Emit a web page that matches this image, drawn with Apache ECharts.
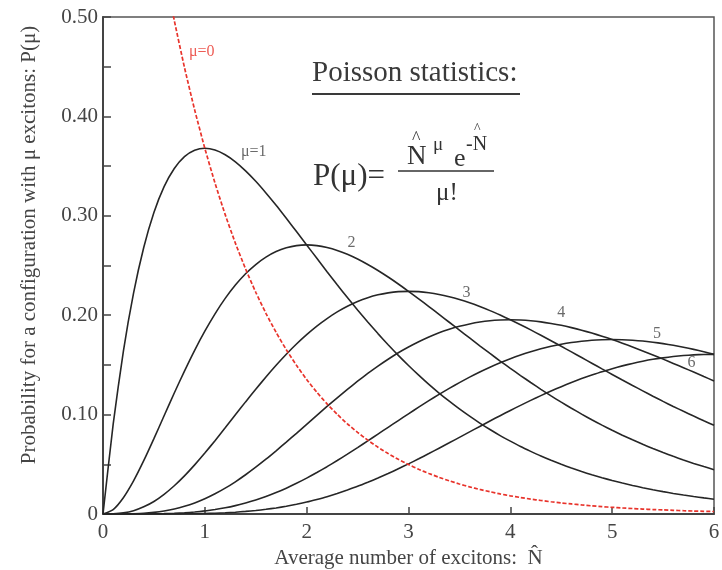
<!DOCTYPE html>
<html>
<head>
<meta charset="utf-8">
<script src="https://cdn.jsdelivr.net/npm/echarts@6/dist/echarts.min.js"></script>
<style>
  html, body { margin: 0; padding: 0; background: #ffffff; }
  #chart { width: 722px; height: 570px; }
</style>
</head>
<body>
<div id="chart"></div>
<script>
// Average number of excitons (x samples, step 0.1)
const nHat = [
  0.0, 0.1, 0.2, 0.3, 0.4, 0.5, 0.6, 0.7, 0.8, 0.9,
  1.0, 1.1, 1.2, 1.3, 1.4, 1.5, 1.6, 1.7, 1.8, 1.9,
  2.0, 2.1, 2.2, 2.3, 2.4, 2.5, 2.6, 2.7, 2.8, 2.9,
  3.0, 3.1, 3.2, 3.3, 3.4, 3.5, 3.6, 3.7, 3.8, 3.9,
  4.0, 4.1, 4.2, 4.3, 4.4, 4.5, 4.6, 4.7, 4.8, 4.9,
  5.0, 5.1, 5.2, 5.3, 5.4, 5.5, 5.6, 5.7, 5.8, 5.9,
  6.0];

// Probability of a configuration with mu excitons, one array per mu
const p0 = [
  1.0000, 0.9048, 0.8187, 0.7408, 0.6703, 0.6065, 0.5488, 0.4966, 0.4493, 0.4066,
  0.3679, 0.3329, 0.3012, 0.2725, 0.2466, 0.2231, 0.2019, 0.1827, 0.1653, 0.1496,
  0.1353, 0.1225, 0.1108, 0.1003, 0.0907, 0.0821, 0.0743, 0.0672, 0.0608, 0.0550,
  0.0498, 0.0450, 0.0408, 0.0369, 0.0334, 0.0302, 0.0273, 0.0247, 0.0224, 0.0202,
  0.0183, 0.0166, 0.0150, 0.0136, 0.0123, 0.0111, 0.0101, 0.0091, 0.0082, 0.0074,
  0.0067, 0.0061, 0.0055, 0.0050, 0.0045, 0.0041, 0.0037, 0.0033, 0.0030, 0.0027,
  0.0025];
const p1 = [
  0.0000, 0.0905, 0.1637, 0.2222, 0.2681, 0.3033, 0.3293, 0.3476, 0.3595, 0.3659,
  0.3679, 0.3662, 0.3614, 0.3543, 0.3452, 0.3347, 0.3230, 0.3106, 0.2975, 0.2842,
  0.2707, 0.2572, 0.2438, 0.2306, 0.2177, 0.2052, 0.1931, 0.1815, 0.1703, 0.1596,
  0.1494, 0.1397, 0.1304, 0.1217, 0.1135, 0.1057, 0.0984, 0.0915, 0.0850, 0.0789,
  0.0733, 0.0679, 0.0630, 0.0583, 0.0540, 0.0500, 0.0462, 0.0427, 0.0395, 0.0365,
  0.0337, 0.0311, 0.0287, 0.0265, 0.0244, 0.0225, 0.0207, 0.0191, 0.0176, 0.0162,
  0.0149];
const p2 = [
  0.0000, 0.0045, 0.0164, 0.0333, 0.0536, 0.0758, 0.0988, 0.1217, 0.1438, 0.1647,
  0.1839, 0.2014, 0.2169, 0.2303, 0.2417, 0.2510, 0.2584, 0.2640, 0.2678, 0.2700,
  0.2707, 0.2700, 0.2681, 0.2652, 0.2613, 0.2565, 0.2510, 0.2450, 0.2384, 0.2314,
  0.2240, 0.2165, 0.2087, 0.2008, 0.1929, 0.1850, 0.1771, 0.1692, 0.1615, 0.1539,
  0.1465, 0.1393, 0.1323, 0.1254, 0.1188, 0.1125, 0.1064, 0.1005, 0.0948, 0.0894,
  0.0842, 0.0793, 0.0746, 0.0701, 0.0659, 0.0618, 0.0580, 0.0544, 0.0509, 0.0477,
  0.0446];
const p3 = [
  0.0000, 0.0002, 0.0011, 0.0033, 0.0072, 0.0126, 0.0198, 0.0284, 0.0383, 0.0494,
  0.0613, 0.0738, 0.0867, 0.0998, 0.1128, 0.1255, 0.1378, 0.1496, 0.1607, 0.1710,
  0.1804, 0.1890, 0.1966, 0.2033, 0.2090, 0.2138, 0.2176, 0.2205, 0.2225, 0.2237,
  0.2240, 0.2237, 0.2226, 0.2209, 0.2186, 0.2158, 0.2125, 0.2087, 0.2046, 0.2001,
  0.1954, 0.1904, 0.1852, 0.1798, 0.1743, 0.1687, 0.1631, 0.1574, 0.1517, 0.1460,
  0.1404, 0.1348, 0.1293, 0.1239, 0.1185, 0.1133, 0.1082, 0.1033, 0.0985, 0.0938,
  0.0892];
const p4 = [
  0.0000, 0.0000, 0.0001, 0.0003, 0.0007, 0.0016, 0.0030, 0.0050, 0.0077, 0.0111,
  0.0153, 0.0203, 0.0260, 0.0324, 0.0395, 0.0471, 0.0551, 0.0636, 0.0723, 0.0812,
  0.0902, 0.0992, 0.1082, 0.1169, 0.1254, 0.1336, 0.1414, 0.1488, 0.1557, 0.1622,
  0.1680, 0.1733, 0.1781, 0.1823, 0.1858, 0.1888, 0.1912, 0.1931, 0.1944, 0.1951,
  0.1954, 0.1951, 0.1944, 0.1933, 0.1917, 0.1898, 0.1875, 0.1849, 0.1820, 0.1789,
  0.1755, 0.1719, 0.1681, 0.1641, 0.1600, 0.1558, 0.1515, 0.1472, 0.1428, 0.1383,
  0.1339];
const p5 = [
  0.0000, 0.0000, 0.0000, 0.0000, 0.0001, 0.0002, 0.0004, 0.0007, 0.0012, 0.0020,
  0.0031, 0.0045, 0.0062, 0.0084, 0.0111, 0.0141, 0.0176, 0.0216, 0.0260, 0.0309,
  0.0361, 0.0417, 0.0476, 0.0538, 0.0602, 0.0668, 0.0735, 0.0804, 0.0872, 0.0940,
  0.1008, 0.1075, 0.1140, 0.1203, 0.1264, 0.1322, 0.1377, 0.1429, 0.1477, 0.1522,
  0.1563, 0.1600, 0.1633, 0.1662, 0.1687, 0.1708, 0.1725, 0.1738, 0.1748, 0.1753,
  0.1755, 0.1753, 0.1748, 0.1740, 0.1728, 0.1714, 0.1697, 0.1678, 0.1656, 0.1632,
  0.1606];
const p6 = [
  0.0000, 0.0000, 0.0000, 0.0000, 0.0000, 0.0000, 0.0000, 0.0001, 0.0002, 0.0003,
  0.0005, 0.0008, 0.0012, 0.0018, 0.0026, 0.0035, 0.0047, 0.0061, 0.0078, 0.0098,
  0.0120, 0.0146, 0.0174, 0.0206, 0.0241, 0.0278, 0.0319, 0.0362, 0.0407, 0.0455,
  0.0504, 0.0555, 0.0608, 0.0662, 0.0716, 0.0771, 0.0826, 0.0881, 0.0936, 0.0989,
  0.1042, 0.1093, 0.1143, 0.1191, 0.1237, 0.1281, 0.1323, 0.1362, 0.1398, 0.1432,
  0.1462, 0.1490, 0.1515, 0.1537, 0.1556, 0.1571, 0.1584, 0.1594, 0.1601, 0.1605,
  0.1606];

// Curve captions and where they sit (data units)
const curveNames = ['μ=0', 'μ=1', '2', '3', '4', '5', '6'];
const captionX = [0.97, 1.48, 2.44, 3.57, 4.50, 5.44, 5.78];
const captionY = [0.465, 0.364, 0.273, 0.223, 0.202, 0.181, 0.152];

const yTicks = [0, 0.1, 0.2, 0.3, 0.4, 0.5];

const serif = '"Liberation Serif", "Times New Roman", serif';
const ink = '#262626';
const textGray = '#454545';
const red = '#e8332b';

const pairs = arr => nHat.map((x, i) => [x, arr[i]]);
const curves = [p0, p1, p2, p3, p4, p5, p6];

const lineSeries = curves.map((arr, k) => ({
  type: 'line',
  name: curveNames[k],
  // the mu=0 curve leaves the plot through the top edge, start just above it
  data: pairs(arr).filter(d => k !== 0 || d[0] >= 0.6),
  showSymbol: false,
  smooth: 0.2,
  clip: true,
  lineStyle: k === 0
    ? { color: red, width: 1.7, type: [4, 2] }
    : { color: ink, width: 1.6 },
  z: k === 0 ? 3 : 2
}));

const captionSeries = {
  type: 'scatter',
  symbolSize: 0,
  silent: true,
  data: curveNames.map((t, k) => ({
    value: [captionX[k], captionY[k]],
    label: {
      show: true,
      position: 'inside',
      formatter: t,
      fontFamily: serif,
      fontSize: 16,
      color: k === 0 ? red : textGray
    }
  })),
  z: 5
};

// Formula pieces: text, font size, x, y (pixel anchor, left/middle)
const formulaText = (text, size, x, y) => ({
  type: 'text', x: x, y: y,
  style: { text: text, font: size + 'px ' + serif, fill: '#333', align: 'left', verticalAlign: 'middle' }
});

const chart = echarts.init(document.getElementById('chart'), null, { renderer: 'canvas' });

chart.setOption({
  backgroundColor: '#ffffff',
  animation: false,
  grid: {
    left: 103, right: 8, top: 17, bottom: 56,
    outerBoundsMode: 'none',
    containLabel: false,
    show: true, borderColor: '#555', borderWidth: 1.5
  },
  xAxis: {
    type: 'value',
    min: 0, max: 6, interval: 1,
    name: 'Average number of excitons:  N\u0302',
    nameLocation: 'middle',
    nameGap: 33,
    nameTextStyle: { fontFamily: serif, fontSize: 21, color: textGray },
    axisLine: { lineStyle: { color: '#444', width: 2 } },
    axisTick: { inside: true, length: 7, lineStyle: { color: '#444', width: 1.5 } },
    axisLabel: { fontFamily: serif, fontSize: 21, color: textGray, margin: 8 },
    splitLine: { show: false }
  },
  yAxis: {
    type: 'value',
    min: 0, max: 0.5, interval: 0.1,
    axisLine: { lineStyle: { color: '#444', width: 2 } },
    axisTick: { inside: true, length: 8, lineStyle: { color: '#444', width: 1.5 } },
    minorTick: { show: true, splitNumber: 2, length: 8, lineStyle: { color: '#444', width: 1.5 } },
    axisLabel: {
      fontFamily: serif, fontSize: 21, color: textGray, margin: 5,
      formatter: v => {
        const t = yTicks.find(s => Math.abs(s - v) < 1e-9);
        return t === 0 ? '0' : t.toFixed(2);
      }
    },
    splitLine: { show: false }
  },
  graphic: [
    // rotated y-axis title
    { type: 'text', x: 29, y: 245, rotation: Math.PI / 2,
      style: { text: 'Probability for a configuration with μ excitons: P(μ)',
               font: '21px ' + serif, fill: textGray, align: 'center', verticalAlign: 'middle' } },
    // boxed caption
    { type: 'text', x: 312, y: 73,
      style: { text: 'Poisson statistics:', font: '29px ' + serif, fill: '#3a3a3a',
               align: 'left', verticalAlign: 'middle' } },
    { type: 'line', shape: { x1: 312, y1: 94, x2: 520, y2: 94 },
      style: { stroke: '#3a3a3a', lineWidth: 2 } },
    formulaText('P(μ)=', 31, 313, 177),
    { type: 'line', shape: { x1: 398, y1: 171, x2: 494, y2: 171 },
      style: { stroke: '#333', lineWidth: 1.6 } },
    formulaText('N', 27, 407, 157),
    formulaText('^', 18, 412, 139),
    formulaText('μ', 19, 433, 145),
    formulaText('e', 26, 454, 159),
    formulaText('-N', 20, 466, 145),
    formulaText('^', 14, 474, 129),
    formulaText('μ!', 25, 436, 193)
  ],
  series: [...lineSeries, captionSeries]
});
</script>
</body>
</html>
